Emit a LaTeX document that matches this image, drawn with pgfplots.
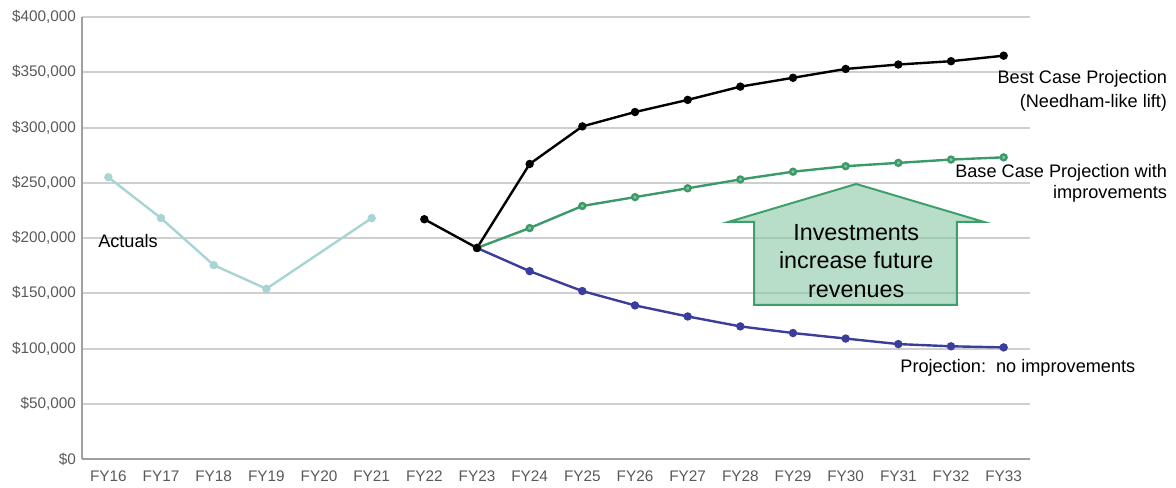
\documentclass[border=0pt]{standalone}
\usepackage{pgfplots}
\pgfplotsset{compat=1.18}
\usepackage{fontspec}
\setmainfont{Liberation Sans}
\definecolor{actual}{HTML}{A8D4D6}
\definecolor{bestc}{HTML}{000000}
\definecolor{basec}{HTML}{3C9A68}
\definecolor{noimp}{HTML}{3B3D9A}
\definecolor{arrowfill}{HTML}{89C6A3}
\definecolor{arrowdraw}{HTML}{3DA06A}
\definecolor{ticklab}{HTML}{595959}
\begin{document}
\begin{tikzpicture}
\useasboundingbox (-61.5pt,-21pt) rectangle (820.5pt,344.25pt);
\begin{axis}[
  at={(0,0)}, anchor=south west,
  scale only axis, width=711pt, height=331.5pt,
  xmin=-0.5, xmax=17.5, ymin=0, ymax=400000,
  scaled y ticks=false,
  xtick={0,...,17},
  xticklabels={FY16,FY17,FY18,FY19,FY20,FY21,FY22,FY23,FY24,FY25,FY26,FY27,FY28,FY29,FY30,FY31,FY32,FY33},
  ytick={0,50000,100000,150000,200000,250000,300000,350000,400000},
  yticklabels={{\$0},{\$50,000},{\$100,000},{\$150,000},{\$200,000},{\$250,000},{\$300,000},{\$350,000},{\$400,000}},
  axis x line=bottom, axis y line=left,
  axis line style={-, draw=gray!75, line width=1.2pt},
  ymajorgrids, major grid style={draw=gray!38, line width=1.5pt},
  major tick length=0pt,
  tick label style={font=\fontsize{11.5}{13}\selectfont, text=ticklab},
  xticklabel style={yshift=-5.5pt},
  yticklabel style={xshift=-1pt},
  clip=false,
]
\addplot[actual, line width=1.8pt, mark=*, mark size=2.2pt] coordinates {(0,255000)(1,218000)(2,175500)(3,154000)(5,218000)};
\addplot[noimp, line width=1.8pt, mark=*, mark size=2.2pt] coordinates {(7,191000)(8,170000)(9,152000)(10,139000)(11,129000)(12,120000)(13,114000)(14,109000)(15,104000)(16,102000)(17,101000)};
\addplot[basec, line width=1.8pt, mark=*, mark size=2.2pt, mark options={fill=basec!60}] coordinates {(7,191000)(8,209000)(9,229000)(10,237000)(11,245000)(12,253000)(13,260000)(14,265000)(15,268000)(16,271000)(17,273000)};
\addplot[bestc, line width=1.8pt, mark=*, mark size=2.2pt] coordinates {(6,217000)(7,191000)(8,267000)(9,301000)(10,314000)(11,325000)(12,337000)(13,345000)(14,353000)(15,357000)(16,360000)(17,365000)};
\draw[draw=arrowdraw, line width=1.5pt, fill=arrowfill, fill opacity=0.6, line join=miter]
  (axis cs:14.20,248900) -- (axis cs:16.63,214500) -- (axis cs:16.11,214500) -- (axis cs:16.11,139400)
  -- (axis cs:12.26,139400) -- (axis cs:12.26,214500) -- (axis cs:11.77,214500) -- cycle;
\node[align=center, font=\fontsize{17.5}{21.4}\selectfont] at (axis cs:14.20,179200) {Investments\\increase future\\revenues};
\node[anchor=west, font=\fontsize{13.6}{18}\selectfont] at (axis cs:-0.28,197300) {Actuals};
\node[anchor=east, align=right, font=\fontsize{13.6}{18}\selectfont] at (axis cs:20.19,333000) {Best Case Projection\\(Needham-like lift)};
\node[anchor=east, align=right, font=\fontsize{13.6}{16}\selectfont] at (axis cs:20.19,249300) {Base Case Projection with\\improvements};
\node[anchor=west, font=\fontsize{13.6}{18}\selectfont] at (axis cs:14.95,82400) {Projection:\ \ no improvements};
\end{axis}
\end{tikzpicture}
\end{document}
